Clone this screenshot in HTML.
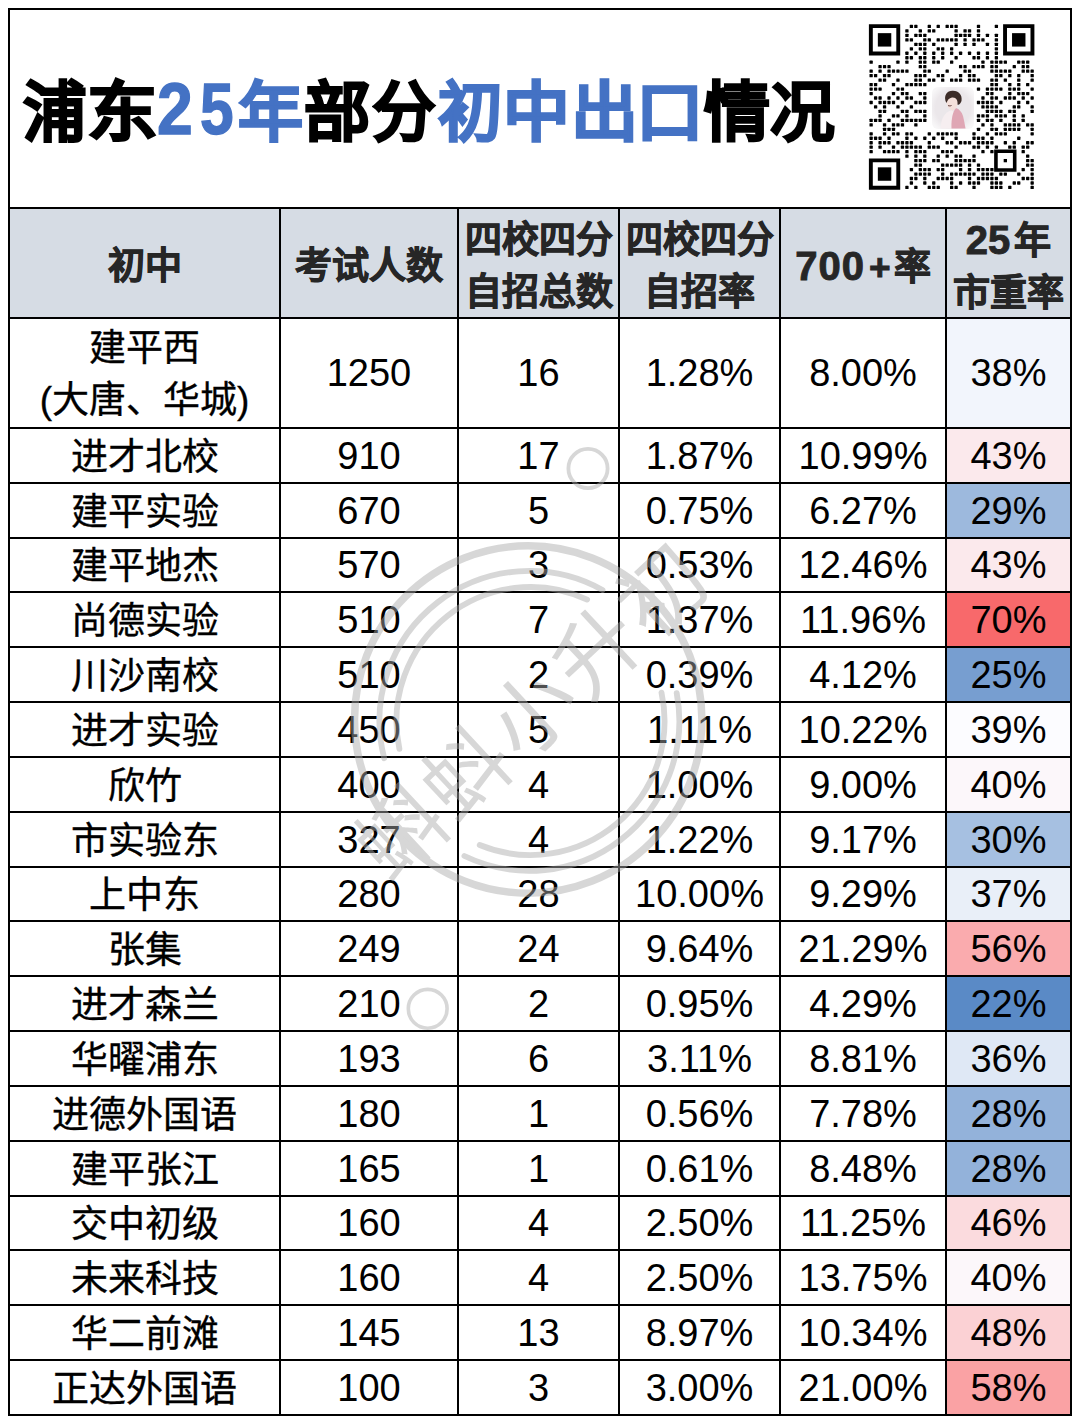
<!DOCTYPE html>
<html lang="zh-CN"><head><meta charset="utf-8"><style>
*{margin:0;padding:0;box-sizing:border-box}
html,body{width:1080px;height:1424px;background:#fff;overflow:hidden}
body{position:relative;font-family:"Liberation Sans",sans-serif;color:#000}
.h{position:absolute;height:2px;background:#000}
.v{position:absolute;width:2px;background:#000}
.c{position:absolute;display:flex;align-items:center;justify-content:center;text-align:center;white-space:nowrap;font-size:38px;line-height:52px}
.hd{font-weight:bold;color:#262626;font-size:37px;-webkit-text-stroke:0.9px #262626}
.bg{position:absolute}
.hn{font-size:40px}
.tg{position:absolute;font-size:64.5px;line-height:64.5px;font-weight:bold;-webkit-text-stroke:2px currentColor;white-space:nowrap;transform-origin:0 0}
.td{position:absolute;font-size:72px;line-height:72px;font-weight:bold;transform-origin:0 0;-webkit-text-stroke:1.4px currentColor}
.b{color:#4472c4}
.tg:not(.b){color:#000}
</style></head><body>

<div class="bg" style="left:10px;top:209px;width:1060px;height:108px;background:#d6dce4"></div>
<div class="bg" style="left:947px;top:319px;width:123px;height:108px;background:#f2f5fc"></div>
<div class="bg" style="left:947px;top:429px;width:123px;height:53px;background:#fbe9ec"></div>
<div class="bg" style="left:947px;top:484px;width:123px;height:53px;background:#9db9dd"></div>
<div class="bg" style="left:947px;top:539px;width:123px;height:52px;background:#fbe9ec"></div>
<div class="bg" style="left:947px;top:593px;width:123px;height:53px;background:#f8696b"></div>
<div class="bg" style="left:947px;top:648px;width:123px;height:53px;background:#779ed0"></div>
<div class="bg" style="left:947px;top:703px;width:123px;height:53px;background:#fcfcff"></div>
<div class="bg" style="left:947px;top:758px;width:123px;height:53px;background:#fcf7fa"></div>
<div class="bg" style="left:947px;top:813px;width:123px;height:53px;background:#a6c0e1"></div>
<div class="bg" style="left:947px;top:868px;width:123px;height:52px;background:#e9eff8"></div>
<div class="bg" style="left:947px;top:922px;width:123px;height:53px;background:#faabae"></div>
<div class="bg" style="left:947px;top:977px;width:123px;height:53px;background:#5a8ac6"></div>
<div class="bg" style="left:947px;top:1032px;width:123px;height:53px;background:#dfe8f5"></div>
<div class="bg" style="left:947px;top:1087px;width:123px;height:53px;background:#93b2da"></div>
<div class="bg" style="left:947px;top:1142px;width:123px;height:53px;background:#93b2da"></div>
<div class="bg" style="left:947px;top:1197px;width:123px;height:52px;background:#fbdbde"></div>
<div class="bg" style="left:947px;top:1251px;width:123px;height:53px;background:#fcf7fa"></div>
<div class="bg" style="left:947px;top:1306px;width:123px;height:53px;background:#fbd1d4"></div>
<div class="bg" style="left:947px;top:1361px;width:123px;height:53px;background:#faa2a4"></div>
<span class="tg" style="left:22.8px;top:80.85px;transform:scaleX(0.982)">浦</span>
<span class="tg" style="left:86.9px;top:80.85px;transform:scaleX(1.094)">东</span>
<span class="tg b" style="left:238.4px;top:80.85px;transform:scaleX(1.008)">年</span>
<span class="tg" style="left:303.8px;top:80.85px;transform:scaleX(1.030)">部</span>
<span class="tg" style="left:372.4px;top:80.85px;transform:scaleX(0.987)">分</span>
<span class="tg b" style="left:437.8px;top:80.85px;transform:scaleX(0.998)">初</span>
<span class="tg b" style="left:503.1px;top:80.85px;transform:scaleX(1.035)">中</span>
<span class="tg b" style="left:570.6px;top:80.85px;transform:scaleX(1.042)">出</span>
<span class="tg b" style="left:636.2px;top:80.85px;transform:scaleX(1.046)">口</span>
<span class="tg" style="left:703.6px;top:80.85px;transform:scaleX(1.021)">情</span>
<span class="tg" style="left:770.3px;top:80.85px;transform:scaleX(1.003)">况</span>
<span class="td b" style="left:157.2px;top:73.0px;transform:scaleX(0.893)">2</span>
<span class="td b" style="left:200.4px;top:73.0px;transform:scaleX(0.839)">5</span>
<div class="c hd" style="left:10px;top:209px;width:269px;height:108px;padding-top:8px"><div>初中</div></div>
<div class="c hd" style="left:281px;top:209px;width:176px;height:108px;padding-top:8px"><div>考试人数</div></div>
<div class="c hd" style="left:459px;top:209px;width:159px;height:108px;padding-top:7px"><div>四校四分<br>自招总数</div></div>
<div class="c hd" style="left:620px;top:209px;width:159px;height:108px;padding-top:7px"><div>四校四分<br>自招率</div></div>
<div class="c hd" style="left:781px;top:209px;width:164px;height:108px;padding-top:8px"><div><span class="hn" style="letter-spacing:1px">700</span><span style="margin:0 3px 0 4px">+</span>率</div></div>
<div class="c hd" style="left:947px;top:209px;width:123px;height:108px;padding-top:7px"><div><span class="hn" style="margin-right:4px">25</span>年<br>市重率</div></div>
<div class="c" style="left:10px;top:319px;width:269px;height:108px;font-size:37px;-webkit-text-stroke:0.35px #000;padding-top:4px"><div>建平西<br>(大唐、华城)</div></div>
<div class="c" style="left:281px;top:319px;width:176px;height:108px"><div>1250</div></div>
<div class="c" style="left:459px;top:319px;width:159px;height:108px"><div>16</div></div>
<div class="c" style="left:620px;top:319px;width:159px;height:108px"><div>1.28%</div></div>
<div class="c" style="left:781px;top:319px;width:164px;height:108px"><div>8.00%</div></div>
<div class="c" style="left:947px;top:319px;width:123px;height:108px"><div>38%</div></div>
<div class="c" style="left:10px;top:429px;width:269px;height:53px;font-size:37px;-webkit-text-stroke:0.35px #000;padding-top:4px"><div>进才北校</div></div>
<div class="c" style="left:281px;top:429px;width:176px;height:53px"><div>910</div></div>
<div class="c" style="left:459px;top:429px;width:159px;height:53px"><div>17</div></div>
<div class="c" style="left:620px;top:429px;width:159px;height:53px"><div>1.87%</div></div>
<div class="c" style="left:781px;top:429px;width:164px;height:53px"><div>10.99%</div></div>
<div class="c" style="left:947px;top:429px;width:123px;height:53px"><div>43%</div></div>
<div class="c" style="left:10px;top:484px;width:269px;height:53px;font-size:37px;-webkit-text-stroke:0.35px #000;padding-top:4px"><div>建平实验</div></div>
<div class="c" style="left:281px;top:484px;width:176px;height:53px"><div>670</div></div>
<div class="c" style="left:459px;top:484px;width:159px;height:53px"><div>5</div></div>
<div class="c" style="left:620px;top:484px;width:159px;height:53px"><div>0.75%</div></div>
<div class="c" style="left:781px;top:484px;width:164px;height:53px"><div>6.27%</div></div>
<div class="c" style="left:947px;top:484px;width:123px;height:53px"><div>29%</div></div>
<div class="c" style="left:10px;top:539px;width:269px;height:52px;font-size:37px;-webkit-text-stroke:0.35px #000;padding-top:4px"><div>建平地杰</div></div>
<div class="c" style="left:281px;top:539px;width:176px;height:52px"><div>570</div></div>
<div class="c" style="left:459px;top:539px;width:159px;height:52px"><div>3</div></div>
<div class="c" style="left:620px;top:539px;width:159px;height:52px"><div>0.53%</div></div>
<div class="c" style="left:781px;top:539px;width:164px;height:52px"><div>12.46%</div></div>
<div class="c" style="left:947px;top:539px;width:123px;height:52px"><div>43%</div></div>
<div class="c" style="left:10px;top:593px;width:269px;height:53px;font-size:37px;-webkit-text-stroke:0.35px #000;padding-top:4px"><div>尚德实验</div></div>
<div class="c" style="left:281px;top:593px;width:176px;height:53px"><div>510</div></div>
<div class="c" style="left:459px;top:593px;width:159px;height:53px"><div>7</div></div>
<div class="c" style="left:620px;top:593px;width:159px;height:53px"><div>1.37%</div></div>
<div class="c" style="left:781px;top:593px;width:164px;height:53px"><div>11.96%</div></div>
<div class="c" style="left:947px;top:593px;width:123px;height:53px"><div>70%</div></div>
<div class="c" style="left:10px;top:648px;width:269px;height:53px;font-size:37px;-webkit-text-stroke:0.35px #000;padding-top:4px"><div>川沙南校</div></div>
<div class="c" style="left:281px;top:648px;width:176px;height:53px"><div>510</div></div>
<div class="c" style="left:459px;top:648px;width:159px;height:53px"><div>2</div></div>
<div class="c" style="left:620px;top:648px;width:159px;height:53px"><div>0.39%</div></div>
<div class="c" style="left:781px;top:648px;width:164px;height:53px"><div>4.12%</div></div>
<div class="c" style="left:947px;top:648px;width:123px;height:53px"><div>25%</div></div>
<div class="c" style="left:10px;top:703px;width:269px;height:53px;font-size:37px;-webkit-text-stroke:0.35px #000;padding-top:4px"><div>进才实验</div></div>
<div class="c" style="left:281px;top:703px;width:176px;height:53px"><div>450</div></div>
<div class="c" style="left:459px;top:703px;width:159px;height:53px"><div>5</div></div>
<div class="c" style="left:620px;top:703px;width:159px;height:53px"><div>1.11%</div></div>
<div class="c" style="left:781px;top:703px;width:164px;height:53px"><div>10.22%</div></div>
<div class="c" style="left:947px;top:703px;width:123px;height:53px"><div>39%</div></div>
<div class="c" style="left:10px;top:758px;width:269px;height:53px;font-size:37px;-webkit-text-stroke:0.35px #000;padding-top:4px"><div>欣竹</div></div>
<div class="c" style="left:281px;top:758px;width:176px;height:53px"><div>400</div></div>
<div class="c" style="left:459px;top:758px;width:159px;height:53px"><div>4</div></div>
<div class="c" style="left:620px;top:758px;width:159px;height:53px"><div>1.00%</div></div>
<div class="c" style="left:781px;top:758px;width:164px;height:53px"><div>9.00%</div></div>
<div class="c" style="left:947px;top:758px;width:123px;height:53px"><div>40%</div></div>
<div class="c" style="left:10px;top:813px;width:269px;height:53px;font-size:37px;-webkit-text-stroke:0.35px #000;padding-top:4px"><div>市实验东</div></div>
<div class="c" style="left:281px;top:813px;width:176px;height:53px"><div>327</div></div>
<div class="c" style="left:459px;top:813px;width:159px;height:53px"><div>4</div></div>
<div class="c" style="left:620px;top:813px;width:159px;height:53px"><div>1.22%</div></div>
<div class="c" style="left:781px;top:813px;width:164px;height:53px"><div>9.17%</div></div>
<div class="c" style="left:947px;top:813px;width:123px;height:53px"><div>30%</div></div>
<div class="c" style="left:10px;top:868px;width:269px;height:52px;font-size:37px;-webkit-text-stroke:0.35px #000;padding-top:4px"><div>上中东</div></div>
<div class="c" style="left:281px;top:868px;width:176px;height:52px"><div>280</div></div>
<div class="c" style="left:459px;top:868px;width:159px;height:52px"><div>28</div></div>
<div class="c" style="left:620px;top:868px;width:159px;height:52px"><div>10.00%</div></div>
<div class="c" style="left:781px;top:868px;width:164px;height:52px"><div>9.29%</div></div>
<div class="c" style="left:947px;top:868px;width:123px;height:52px"><div>37%</div></div>
<div class="c" style="left:10px;top:922px;width:269px;height:53px;font-size:37px;-webkit-text-stroke:0.35px #000;padding-top:4px"><div>张集</div></div>
<div class="c" style="left:281px;top:922px;width:176px;height:53px"><div>249</div></div>
<div class="c" style="left:459px;top:922px;width:159px;height:53px"><div>24</div></div>
<div class="c" style="left:620px;top:922px;width:159px;height:53px"><div>9.64%</div></div>
<div class="c" style="left:781px;top:922px;width:164px;height:53px"><div>21.29%</div></div>
<div class="c" style="left:947px;top:922px;width:123px;height:53px"><div>56%</div></div>
<div class="c" style="left:10px;top:977px;width:269px;height:53px;font-size:37px;-webkit-text-stroke:0.35px #000;padding-top:4px"><div>进才森兰</div></div>
<div class="c" style="left:281px;top:977px;width:176px;height:53px"><div>210</div></div>
<div class="c" style="left:459px;top:977px;width:159px;height:53px"><div>2</div></div>
<div class="c" style="left:620px;top:977px;width:159px;height:53px"><div>0.95%</div></div>
<div class="c" style="left:781px;top:977px;width:164px;height:53px"><div>4.29%</div></div>
<div class="c" style="left:947px;top:977px;width:123px;height:53px"><div>22%</div></div>
<div class="c" style="left:10px;top:1032px;width:269px;height:53px;font-size:37px;-webkit-text-stroke:0.35px #000;padding-top:4px"><div>华曜浦东</div></div>
<div class="c" style="left:281px;top:1032px;width:176px;height:53px"><div>193</div></div>
<div class="c" style="left:459px;top:1032px;width:159px;height:53px"><div>6</div></div>
<div class="c" style="left:620px;top:1032px;width:159px;height:53px"><div>3.11%</div></div>
<div class="c" style="left:781px;top:1032px;width:164px;height:53px"><div>8.81%</div></div>
<div class="c" style="left:947px;top:1032px;width:123px;height:53px"><div>36%</div></div>
<div class="c" style="left:10px;top:1087px;width:269px;height:53px;font-size:37px;-webkit-text-stroke:0.35px #000;padding-top:4px"><div>进德外国语</div></div>
<div class="c" style="left:281px;top:1087px;width:176px;height:53px"><div>180</div></div>
<div class="c" style="left:459px;top:1087px;width:159px;height:53px"><div>1</div></div>
<div class="c" style="left:620px;top:1087px;width:159px;height:53px"><div>0.56%</div></div>
<div class="c" style="left:781px;top:1087px;width:164px;height:53px"><div>7.78%</div></div>
<div class="c" style="left:947px;top:1087px;width:123px;height:53px"><div>28%</div></div>
<div class="c" style="left:10px;top:1142px;width:269px;height:53px;font-size:37px;-webkit-text-stroke:0.35px #000;padding-top:4px"><div>建平张江</div></div>
<div class="c" style="left:281px;top:1142px;width:176px;height:53px"><div>165</div></div>
<div class="c" style="left:459px;top:1142px;width:159px;height:53px"><div>1</div></div>
<div class="c" style="left:620px;top:1142px;width:159px;height:53px"><div>0.61%</div></div>
<div class="c" style="left:781px;top:1142px;width:164px;height:53px"><div>8.48%</div></div>
<div class="c" style="left:947px;top:1142px;width:123px;height:53px"><div>28%</div></div>
<div class="c" style="left:10px;top:1197px;width:269px;height:52px;font-size:37px;-webkit-text-stroke:0.35px #000;padding-top:4px"><div>交中初级</div></div>
<div class="c" style="left:281px;top:1197px;width:176px;height:52px"><div>160</div></div>
<div class="c" style="left:459px;top:1197px;width:159px;height:52px"><div>4</div></div>
<div class="c" style="left:620px;top:1197px;width:159px;height:52px"><div>2.50%</div></div>
<div class="c" style="left:781px;top:1197px;width:164px;height:52px"><div>11.25%</div></div>
<div class="c" style="left:947px;top:1197px;width:123px;height:52px"><div>46%</div></div>
<div class="c" style="left:10px;top:1251px;width:269px;height:53px;font-size:37px;-webkit-text-stroke:0.35px #000;padding-top:4px"><div>未来科技</div></div>
<div class="c" style="left:281px;top:1251px;width:176px;height:53px"><div>160</div></div>
<div class="c" style="left:459px;top:1251px;width:159px;height:53px"><div>4</div></div>
<div class="c" style="left:620px;top:1251px;width:159px;height:53px"><div>2.50%</div></div>
<div class="c" style="left:781px;top:1251px;width:164px;height:53px"><div>13.75%</div></div>
<div class="c" style="left:947px;top:1251px;width:123px;height:53px"><div>40%</div></div>
<div class="c" style="left:10px;top:1306px;width:269px;height:53px;font-size:37px;-webkit-text-stroke:0.35px #000;padding-top:4px"><div>华二前滩</div></div>
<div class="c" style="left:281px;top:1306px;width:176px;height:53px"><div>145</div></div>
<div class="c" style="left:459px;top:1306px;width:159px;height:53px"><div>13</div></div>
<div class="c" style="left:620px;top:1306px;width:159px;height:53px"><div>8.97%</div></div>
<div class="c" style="left:781px;top:1306px;width:164px;height:53px"><div>10.34%</div></div>
<div class="c" style="left:947px;top:1306px;width:123px;height:53px"><div>48%</div></div>
<div class="c" style="left:10px;top:1361px;width:269px;height:53px;font-size:37px;-webkit-text-stroke:0.35px #000;padding-top:4px"><div>正达外国语</div></div>
<div class="c" style="left:281px;top:1361px;width:176px;height:53px"><div>100</div></div>
<div class="c" style="left:459px;top:1361px;width:159px;height:53px"><div>3</div></div>
<div class="c" style="left:620px;top:1361px;width:159px;height:53px"><div>3.00%</div></div>
<div class="c" style="left:781px;top:1361px;width:164px;height:53px"><div>21.00%</div></div>
<div class="c" style="left:947px;top:1361px;width:123px;height:53px"><div>58%</div></div>
<div class="h" style="left:8px;top:8px;width:1064px"></div>
<div class="h" style="left:8px;top:207px;width:1064px"></div>
<div class="h" style="left:8px;top:317px;width:1064px"></div>
<div class="h" style="left:8px;top:427px;width:1064px"></div>
<div class="h" style="left:8px;top:482px;width:1064px"></div>
<div class="h" style="left:8px;top:537px;width:1064px"></div>
<div class="h" style="left:8px;top:591px;width:1064px"></div>
<div class="h" style="left:8px;top:646px;width:1064px"></div>
<div class="h" style="left:8px;top:701px;width:1064px"></div>
<div class="h" style="left:8px;top:756px;width:1064px"></div>
<div class="h" style="left:8px;top:811px;width:1064px"></div>
<div class="h" style="left:8px;top:866px;width:1064px"></div>
<div class="h" style="left:8px;top:920px;width:1064px"></div>
<div class="h" style="left:8px;top:975px;width:1064px"></div>
<div class="h" style="left:8px;top:1030px;width:1064px"></div>
<div class="h" style="left:8px;top:1085px;width:1064px"></div>
<div class="h" style="left:8px;top:1140px;width:1064px"></div>
<div class="h" style="left:8px;top:1195px;width:1064px"></div>
<div class="h" style="left:8px;top:1249px;width:1064px"></div>
<div class="h" style="left:8px;top:1304px;width:1064px"></div>
<div class="h" style="left:8px;top:1359px;width:1064px"></div>
<div class="h" style="left:8px;top:1414px;width:1064px"></div>
<div class="v" style="left:8px;top:8px;height:1408px"></div>
<div class="v" style="left:1070px;top:8px;height:1408px"></div>
<div class="v" style="left:279px;top:207px;height:1209px"></div>
<div class="v" style="left:457px;top:207px;height:1209px"></div>
<div class="v" style="left:618px;top:207px;height:1209px"></div>
<div class="v" style="left:779px;top:207px;height:1209px"></div>
<div class="v" style="left:945px;top:207px;height:1209px"></div>
<svg style="position:absolute;left:0;top:0" width="1080" height="220" viewBox="0 0 1080 220">
<g fill="#000">
<rect x="909.74" y="24.79" width="3.30" height="3.30" rx="0.6"/>
<rect x="914.22" y="24.79" width="3.30" height="3.30" rx="0.6"/>
<rect x="927.64" y="24.79" width="3.30" height="3.30" rx="0.6"/>
<rect x="936.58" y="24.79" width="3.30" height="3.30" rx="0.6"/>
<rect x="945.53" y="24.79" width="3.30" height="3.30" rx="0.6"/>
<rect x="950.00" y="24.79" width="3.30" height="3.30" rx="0.6"/>
<rect x="954.47" y="24.79" width="3.30" height="3.30" rx="0.6"/>
<rect x="976.84" y="24.79" width="3.30" height="3.30" rx="0.6"/>
<rect x="994.73" y="24.79" width="3.30" height="3.30" rx="0.6"/>
<rect x="905.27" y="29.26" width="3.30" height="3.30" rx="0.6"/>
<rect x="918.69" y="29.26" width="3.30" height="3.30" rx="0.6"/>
<rect x="927.64" y="29.26" width="3.30" height="3.30" rx="0.6"/>
<rect x="932.11" y="29.26" width="3.30" height="3.30" rx="0.6"/>
<rect x="954.47" y="29.26" width="3.30" height="3.30" rx="0.6"/>
<rect x="963.42" y="29.26" width="3.30" height="3.30" rx="0.6"/>
<rect x="967.89" y="29.26" width="3.30" height="3.30" rx="0.6"/>
<rect x="976.84" y="29.26" width="3.30" height="3.30" rx="0.6"/>
<rect x="905.27" y="33.73" width="3.30" height="3.30" rx="0.6"/>
<rect x="914.22" y="33.73" width="3.30" height="3.30" rx="0.6"/>
<rect x="918.69" y="33.73" width="3.30" height="3.30" rx="0.6"/>
<rect x="923.16" y="33.73" width="3.30" height="3.30" rx="0.6"/>
<rect x="954.47" y="33.73" width="3.30" height="3.30" rx="0.6"/>
<rect x="958.95" y="33.73" width="3.30" height="3.30" rx="0.6"/>
<rect x="963.42" y="33.73" width="3.30" height="3.30" rx="0.6"/>
<rect x="967.89" y="33.73" width="3.30" height="3.30" rx="0.6"/>
<rect x="976.84" y="33.73" width="3.30" height="3.30" rx="0.6"/>
<rect x="985.78" y="33.73" width="3.30" height="3.30" rx="0.6"/>
<rect x="994.73" y="33.73" width="3.30" height="3.30" rx="0.6"/>
<rect x="905.27" y="38.21" width="3.30" height="3.30" rx="0.6"/>
<rect x="909.74" y="38.21" width="3.30" height="3.30" rx="0.6"/>
<rect x="923.16" y="38.21" width="3.30" height="3.30" rx="0.6"/>
<rect x="927.64" y="38.21" width="3.30" height="3.30" rx="0.6"/>
<rect x="936.58" y="38.21" width="3.30" height="3.30" rx="0.6"/>
<rect x="941.05" y="38.21" width="3.30" height="3.30" rx="0.6"/>
<rect x="945.53" y="38.21" width="3.30" height="3.30" rx="0.6"/>
<rect x="950.00" y="38.21" width="3.30" height="3.30" rx="0.6"/>
<rect x="954.47" y="38.21" width="3.30" height="3.30" rx="0.6"/>
<rect x="963.42" y="38.21" width="3.30" height="3.30" rx="0.6"/>
<rect x="972.37" y="38.21" width="3.30" height="3.30" rx="0.6"/>
<rect x="976.84" y="38.21" width="3.30" height="3.30" rx="0.6"/>
<rect x="981.31" y="38.21" width="3.30" height="3.30" rx="0.6"/>
<rect x="994.73" y="38.21" width="3.30" height="3.30" rx="0.6"/>
<rect x="914.22" y="42.68" width="3.30" height="3.30" rx="0.6"/>
<rect x="918.69" y="42.68" width="3.30" height="3.30" rx="0.6"/>
<rect x="923.16" y="42.68" width="3.30" height="3.30" rx="0.6"/>
<rect x="932.11" y="42.68" width="3.30" height="3.30" rx="0.6"/>
<rect x="954.47" y="42.68" width="3.30" height="3.30" rx="0.6"/>
<rect x="963.42" y="42.68" width="3.30" height="3.30" rx="0.6"/>
<rect x="972.37" y="42.68" width="3.30" height="3.30" rx="0.6"/>
<rect x="985.78" y="42.68" width="3.30" height="3.30" rx="0.6"/>
<rect x="994.73" y="42.68" width="3.30" height="3.30" rx="0.6"/>
<rect x="909.74" y="47.15" width="3.30" height="3.30" rx="0.6"/>
<rect x="918.69" y="47.15" width="3.30" height="3.30" rx="0.6"/>
<rect x="923.16" y="47.15" width="3.30" height="3.30" rx="0.6"/>
<rect x="936.58" y="47.15" width="3.30" height="3.30" rx="0.6"/>
<rect x="941.05" y="47.15" width="3.30" height="3.30" rx="0.6"/>
<rect x="950.00" y="47.15" width="3.30" height="3.30" rx="0.6"/>
<rect x="994.73" y="47.15" width="3.30" height="3.30" rx="0.6"/>
<rect x="905.27" y="51.62" width="3.30" height="3.30" rx="0.6"/>
<rect x="914.22" y="51.62" width="3.30" height="3.30" rx="0.6"/>
<rect x="923.16" y="51.62" width="3.30" height="3.30" rx="0.6"/>
<rect x="932.11" y="51.62" width="3.30" height="3.30" rx="0.6"/>
<rect x="941.05" y="51.62" width="3.30" height="3.30" rx="0.6"/>
<rect x="950.00" y="51.62" width="3.30" height="3.30" rx="0.6"/>
<rect x="958.95" y="51.62" width="3.30" height="3.30" rx="0.6"/>
<rect x="967.89" y="51.62" width="3.30" height="3.30" rx="0.6"/>
<rect x="976.84" y="51.62" width="3.30" height="3.30" rx="0.6"/>
<rect x="985.78" y="51.62" width="3.30" height="3.30" rx="0.6"/>
<rect x="994.73" y="51.62" width="3.30" height="3.30" rx="0.6"/>
<rect x="905.27" y="56.10" width="3.30" height="3.30" rx="0.6"/>
<rect x="909.74" y="56.10" width="3.30" height="3.30" rx="0.6"/>
<rect x="918.69" y="56.10" width="3.30" height="3.30" rx="0.6"/>
<rect x="923.16" y="56.10" width="3.30" height="3.30" rx="0.6"/>
<rect x="932.11" y="56.10" width="3.30" height="3.30" rx="0.6"/>
<rect x="941.05" y="56.10" width="3.30" height="3.30" rx="0.6"/>
<rect x="954.47" y="56.10" width="3.30" height="3.30" rx="0.6"/>
<rect x="972.37" y="56.10" width="3.30" height="3.30" rx="0.6"/>
<rect x="976.84" y="56.10" width="3.30" height="3.30" rx="0.6"/>
<rect x="985.78" y="56.10" width="3.30" height="3.30" rx="0.6"/>
<rect x="994.73" y="56.10" width="3.30" height="3.30" rx="0.6"/>
<rect x="869.49" y="60.57" width="3.30" height="3.30" rx="0.6"/>
<rect x="896.32" y="60.57" width="3.30" height="3.30" rx="0.6"/>
<rect x="905.27" y="60.57" width="3.30" height="3.30" rx="0.6"/>
<rect x="918.69" y="60.57" width="3.30" height="3.30" rx="0.6"/>
<rect x="923.16" y="60.57" width="3.30" height="3.30" rx="0.6"/>
<rect x="932.11" y="60.57" width="3.30" height="3.30" rx="0.6"/>
<rect x="936.58" y="60.57" width="3.30" height="3.30" rx="0.6"/>
<rect x="950.00" y="60.57" width="3.30" height="3.30" rx="0.6"/>
<rect x="981.31" y="60.57" width="3.30" height="3.30" rx="0.6"/>
<rect x="990.26" y="60.57" width="3.30" height="3.30" rx="0.6"/>
<rect x="994.73" y="60.57" width="3.30" height="3.30" rx="0.6"/>
<rect x="999.20" y="60.57" width="3.30" height="3.30" rx="0.6"/>
<rect x="1003.68" y="60.57" width="3.30" height="3.30" rx="0.6"/>
<rect x="1017.10" y="60.57" width="3.30" height="3.30" rx="0.6"/>
<rect x="1021.57" y="60.57" width="3.30" height="3.30" rx="0.6"/>
<rect x="1026.04" y="60.57" width="3.30" height="3.30" rx="0.6"/>
<rect x="878.43" y="65.04" width="3.30" height="3.30" rx="0.6"/>
<rect x="882.91" y="65.04" width="3.30" height="3.30" rx="0.6"/>
<rect x="887.38" y="65.04" width="3.30" height="3.30" rx="0.6"/>
<rect x="918.69" y="65.04" width="3.30" height="3.30" rx="0.6"/>
<rect x="923.16" y="65.04" width="3.30" height="3.30" rx="0.6"/>
<rect x="958.95" y="65.04" width="3.30" height="3.30" rx="0.6"/>
<rect x="963.42" y="65.04" width="3.30" height="3.30" rx="0.6"/>
<rect x="972.37" y="65.04" width="3.30" height="3.30" rx="0.6"/>
<rect x="976.84" y="65.04" width="3.30" height="3.30" rx="0.6"/>
<rect x="981.31" y="65.04" width="3.30" height="3.30" rx="0.6"/>
<rect x="990.26" y="65.04" width="3.30" height="3.30" rx="0.6"/>
<rect x="994.73" y="65.04" width="3.30" height="3.30" rx="0.6"/>
<rect x="1012.62" y="65.04" width="3.30" height="3.30" rx="0.6"/>
<rect x="1021.57" y="65.04" width="3.30" height="3.30" rx="0.6"/>
<rect x="1026.04" y="65.04" width="3.30" height="3.30" rx="0.6"/>
<rect x="869.49" y="69.52" width="3.30" height="3.30" rx="0.6"/>
<rect x="878.43" y="69.52" width="3.30" height="3.30" rx="0.6"/>
<rect x="887.38" y="69.52" width="3.30" height="3.30" rx="0.6"/>
<rect x="891.85" y="69.52" width="3.30" height="3.30" rx="0.6"/>
<rect x="896.32" y="69.52" width="3.30" height="3.30" rx="0.6"/>
<rect x="900.80" y="69.52" width="3.30" height="3.30" rx="0.6"/>
<rect x="905.27" y="69.52" width="3.30" height="3.30" rx="0.6"/>
<rect x="923.16" y="69.52" width="3.30" height="3.30" rx="0.6"/>
<rect x="927.64" y="69.52" width="3.30" height="3.30" rx="0.6"/>
<rect x="945.53" y="69.52" width="3.30" height="3.30" rx="0.6"/>
<rect x="963.42" y="69.52" width="3.30" height="3.30" rx="0.6"/>
<rect x="967.89" y="69.52" width="3.30" height="3.30" rx="0.6"/>
<rect x="990.26" y="69.52" width="3.30" height="3.30" rx="0.6"/>
<rect x="994.73" y="69.52" width="3.30" height="3.30" rx="0.6"/>
<rect x="999.20" y="69.52" width="3.30" height="3.30" rx="0.6"/>
<rect x="1003.68" y="69.52" width="3.30" height="3.30" rx="0.6"/>
<rect x="1008.15" y="69.52" width="3.30" height="3.30" rx="0.6"/>
<rect x="1021.57" y="69.52" width="3.30" height="3.30" rx="0.6"/>
<rect x="1026.04" y="69.52" width="3.30" height="3.30" rx="0.6"/>
<rect x="1030.51" y="69.52" width="3.30" height="3.30" rx="0.6"/>
<rect x="869.49" y="73.99" width="3.30" height="3.30" rx="0.6"/>
<rect x="873.96" y="73.99" width="3.30" height="3.30" rx="0.6"/>
<rect x="882.91" y="73.99" width="3.30" height="3.30" rx="0.6"/>
<rect x="887.38" y="73.99" width="3.30" height="3.30" rx="0.6"/>
<rect x="914.22" y="73.99" width="3.30" height="3.30" rx="0.6"/>
<rect x="918.69" y="73.99" width="3.30" height="3.30" rx="0.6"/>
<rect x="923.16" y="73.99" width="3.30" height="3.30" rx="0.6"/>
<rect x="936.58" y="73.99" width="3.30" height="3.30" rx="0.6"/>
<rect x="941.05" y="73.99" width="3.30" height="3.30" rx="0.6"/>
<rect x="958.95" y="73.99" width="3.30" height="3.30" rx="0.6"/>
<rect x="967.89" y="73.99" width="3.30" height="3.30" rx="0.6"/>
<rect x="972.37" y="73.99" width="3.30" height="3.30" rx="0.6"/>
<rect x="994.73" y="73.99" width="3.30" height="3.30" rx="0.6"/>
<rect x="999.20" y="73.99" width="3.30" height="3.30" rx="0.6"/>
<rect x="1008.15" y="73.99" width="3.30" height="3.30" rx="0.6"/>
<rect x="1017.10" y="73.99" width="3.30" height="3.30" rx="0.6"/>
<rect x="1030.51" y="73.99" width="3.30" height="3.30" rx="0.6"/>
<rect x="878.43" y="78.46" width="3.30" height="3.30" rx="0.6"/>
<rect x="882.91" y="78.46" width="3.30" height="3.30" rx="0.6"/>
<rect x="896.32" y="78.46" width="3.30" height="3.30" rx="0.6"/>
<rect x="914.22" y="78.46" width="3.30" height="3.30" rx="0.6"/>
<rect x="918.69" y="78.46" width="3.30" height="3.30" rx="0.6"/>
<rect x="927.64" y="78.46" width="3.30" height="3.30" rx="0.6"/>
<rect x="932.11" y="78.46" width="3.30" height="3.30" rx="0.6"/>
<rect x="941.05" y="78.46" width="3.30" height="3.30" rx="0.6"/>
<rect x="950.00" y="78.46" width="3.30" height="3.30" rx="0.6"/>
<rect x="954.47" y="78.46" width="3.30" height="3.30" rx="0.6"/>
<rect x="958.95" y="78.46" width="3.30" height="3.30" rx="0.6"/>
<rect x="967.89" y="78.46" width="3.30" height="3.30" rx="0.6"/>
<rect x="972.37" y="78.46" width="3.30" height="3.30" rx="0.6"/>
<rect x="976.84" y="78.46" width="3.30" height="3.30" rx="0.6"/>
<rect x="990.26" y="78.46" width="3.30" height="3.30" rx="0.6"/>
<rect x="994.73" y="78.46" width="3.30" height="3.30" rx="0.6"/>
<rect x="1003.68" y="78.46" width="3.30" height="3.30" rx="0.6"/>
<rect x="1017.10" y="78.46" width="3.30" height="3.30" rx="0.6"/>
<rect x="1030.51" y="78.46" width="3.30" height="3.30" rx="0.6"/>
<rect x="869.49" y="82.94" width="3.30" height="3.30" rx="0.6"/>
<rect x="873.96" y="82.94" width="3.30" height="3.30" rx="0.6"/>
<rect x="891.85" y="82.94" width="3.30" height="3.30" rx="0.6"/>
<rect x="905.27" y="82.94" width="3.30" height="3.30" rx="0.6"/>
<rect x="909.74" y="82.94" width="3.30" height="3.30" rx="0.6"/>
<rect x="914.22" y="82.94" width="3.30" height="3.30" rx="0.6"/>
<rect x="918.69" y="82.94" width="3.30" height="3.30" rx="0.6"/>
<rect x="923.16" y="82.94" width="3.30" height="3.30" rx="0.6"/>
<rect x="990.26" y="82.94" width="3.30" height="3.30" rx="0.6"/>
<rect x="994.73" y="82.94" width="3.30" height="3.30" rx="0.6"/>
<rect x="1008.15" y="82.94" width="3.30" height="3.30" rx="0.6"/>
<rect x="1017.10" y="82.94" width="3.30" height="3.30" rx="0.6"/>
<rect x="1026.04" y="82.94" width="3.30" height="3.30" rx="0.6"/>
<rect x="869.49" y="87.41" width="3.30" height="3.30" rx="0.6"/>
<rect x="873.96" y="87.41" width="3.30" height="3.30" rx="0.6"/>
<rect x="878.43" y="87.41" width="3.30" height="3.30" rx="0.6"/>
<rect x="896.32" y="87.41" width="3.30" height="3.30" rx="0.6"/>
<rect x="900.80" y="87.41" width="3.30" height="3.30" rx="0.6"/>
<rect x="976.84" y="87.41" width="3.30" height="3.30" rx="0.6"/>
<rect x="985.78" y="87.41" width="3.30" height="3.30" rx="0.6"/>
<rect x="990.26" y="87.41" width="3.30" height="3.30" rx="0.6"/>
<rect x="994.73" y="87.41" width="3.30" height="3.30" rx="0.6"/>
<rect x="999.20" y="87.41" width="3.30" height="3.30" rx="0.6"/>
<rect x="1008.15" y="87.41" width="3.30" height="3.30" rx="0.6"/>
<rect x="1012.62" y="87.41" width="3.30" height="3.30" rx="0.6"/>
<rect x="1017.10" y="87.41" width="3.30" height="3.30" rx="0.6"/>
<rect x="1030.51" y="87.41" width="3.30" height="3.30" rx="0.6"/>
<rect x="869.49" y="91.88" width="3.30" height="3.30" rx="0.6"/>
<rect x="891.85" y="91.88" width="3.30" height="3.30" rx="0.6"/>
<rect x="900.80" y="91.88" width="3.30" height="3.30" rx="0.6"/>
<rect x="905.27" y="91.88" width="3.30" height="3.30" rx="0.6"/>
<rect x="918.69" y="91.88" width="3.30" height="3.30" rx="0.6"/>
<rect x="923.16" y="91.88" width="3.30" height="3.30" rx="0.6"/>
<rect x="985.78" y="91.88" width="3.30" height="3.30" rx="0.6"/>
<rect x="990.26" y="91.88" width="3.30" height="3.30" rx="0.6"/>
<rect x="1008.15" y="91.88" width="3.30" height="3.30" rx="0.6"/>
<rect x="1017.10" y="91.88" width="3.30" height="3.30" rx="0.6"/>
<rect x="1021.57" y="91.88" width="3.30" height="3.30" rx="0.6"/>
<rect x="1026.04" y="91.88" width="3.30" height="3.30" rx="0.6"/>
<rect x="873.96" y="96.35" width="3.30" height="3.30" rx="0.6"/>
<rect x="878.43" y="96.35" width="3.30" height="3.30" rx="0.6"/>
<rect x="887.38" y="96.35" width="3.30" height="3.30" rx="0.6"/>
<rect x="896.32" y="96.35" width="3.30" height="3.30" rx="0.6"/>
<rect x="905.27" y="96.35" width="3.30" height="3.30" rx="0.6"/>
<rect x="909.74" y="96.35" width="3.30" height="3.30" rx="0.6"/>
<rect x="923.16" y="96.35" width="3.30" height="3.30" rx="0.6"/>
<rect x="981.31" y="96.35" width="3.30" height="3.30" rx="0.6"/>
<rect x="990.26" y="96.35" width="3.30" height="3.30" rx="0.6"/>
<rect x="994.73" y="96.35" width="3.30" height="3.30" rx="0.6"/>
<rect x="1003.68" y="96.35" width="3.30" height="3.30" rx="0.6"/>
<rect x="1008.15" y="96.35" width="3.30" height="3.30" rx="0.6"/>
<rect x="1012.62" y="96.35" width="3.30" height="3.30" rx="0.6"/>
<rect x="1021.57" y="96.35" width="3.30" height="3.30" rx="0.6"/>
<rect x="1030.51" y="96.35" width="3.30" height="3.30" rx="0.6"/>
<rect x="869.49" y="100.83" width="3.30" height="3.30" rx="0.6"/>
<rect x="878.43" y="100.83" width="3.30" height="3.30" rx="0.6"/>
<rect x="882.91" y="100.83" width="3.30" height="3.30" rx="0.6"/>
<rect x="887.38" y="100.83" width="3.30" height="3.30" rx="0.6"/>
<rect x="891.85" y="100.83" width="3.30" height="3.30" rx="0.6"/>
<rect x="900.80" y="100.83" width="3.30" height="3.30" rx="0.6"/>
<rect x="914.22" y="100.83" width="3.30" height="3.30" rx="0.6"/>
<rect x="918.69" y="100.83" width="3.30" height="3.30" rx="0.6"/>
<rect x="923.16" y="100.83" width="3.30" height="3.30" rx="0.6"/>
<rect x="976.84" y="100.83" width="3.30" height="3.30" rx="0.6"/>
<rect x="981.31" y="100.83" width="3.30" height="3.30" rx="0.6"/>
<rect x="985.78" y="100.83" width="3.30" height="3.30" rx="0.6"/>
<rect x="990.26" y="100.83" width="3.30" height="3.30" rx="0.6"/>
<rect x="999.20" y="100.83" width="3.30" height="3.30" rx="0.6"/>
<rect x="1017.10" y="100.83" width="3.30" height="3.30" rx="0.6"/>
<rect x="1026.04" y="100.83" width="3.30" height="3.30" rx="0.6"/>
<rect x="873.96" y="105.30" width="3.30" height="3.30" rx="0.6"/>
<rect x="882.91" y="105.30" width="3.30" height="3.30" rx="0.6"/>
<rect x="896.32" y="105.30" width="3.30" height="3.30" rx="0.6"/>
<rect x="909.74" y="105.30" width="3.30" height="3.30" rx="0.6"/>
<rect x="981.31" y="105.30" width="3.30" height="3.30" rx="0.6"/>
<rect x="985.78" y="105.30" width="3.30" height="3.30" rx="0.6"/>
<rect x="990.26" y="105.30" width="3.30" height="3.30" rx="0.6"/>
<rect x="994.73" y="105.30" width="3.30" height="3.30" rx="0.6"/>
<rect x="1012.62" y="105.30" width="3.30" height="3.30" rx="0.6"/>
<rect x="1017.10" y="105.30" width="3.30" height="3.30" rx="0.6"/>
<rect x="1030.51" y="105.30" width="3.30" height="3.30" rx="0.6"/>
<rect x="878.43" y="109.77" width="3.30" height="3.30" rx="0.6"/>
<rect x="882.91" y="109.77" width="3.30" height="3.30" rx="0.6"/>
<rect x="900.80" y="109.77" width="3.30" height="3.30" rx="0.6"/>
<rect x="905.27" y="109.77" width="3.30" height="3.30" rx="0.6"/>
<rect x="914.22" y="109.77" width="3.30" height="3.30" rx="0.6"/>
<rect x="918.69" y="109.77" width="3.30" height="3.30" rx="0.6"/>
<rect x="923.16" y="109.77" width="3.30" height="3.30" rx="0.6"/>
<rect x="985.78" y="109.77" width="3.30" height="3.30" rx="0.6"/>
<rect x="990.26" y="109.77" width="3.30" height="3.30" rx="0.6"/>
<rect x="994.73" y="109.77" width="3.30" height="3.30" rx="0.6"/>
<rect x="999.20" y="109.77" width="3.30" height="3.30" rx="0.6"/>
<rect x="1008.15" y="109.77" width="3.30" height="3.30" rx="0.6"/>
<rect x="1012.62" y="109.77" width="3.30" height="3.30" rx="0.6"/>
<rect x="1030.51" y="109.77" width="3.30" height="3.30" rx="0.6"/>
<rect x="878.43" y="114.25" width="3.30" height="3.30" rx="0.6"/>
<rect x="891.85" y="114.25" width="3.30" height="3.30" rx="0.6"/>
<rect x="896.32" y="114.25" width="3.30" height="3.30" rx="0.6"/>
<rect x="905.27" y="114.25" width="3.30" height="3.30" rx="0.6"/>
<rect x="923.16" y="114.25" width="3.30" height="3.30" rx="0.6"/>
<rect x="976.84" y="114.25" width="3.30" height="3.30" rx="0.6"/>
<rect x="981.31" y="114.25" width="3.30" height="3.30" rx="0.6"/>
<rect x="985.78" y="114.25" width="3.30" height="3.30" rx="0.6"/>
<rect x="994.73" y="114.25" width="3.30" height="3.30" rx="0.6"/>
<rect x="999.20" y="114.25" width="3.30" height="3.30" rx="0.6"/>
<rect x="1003.68" y="114.25" width="3.30" height="3.30" rx="0.6"/>
<rect x="1012.62" y="114.25" width="3.30" height="3.30" rx="0.6"/>
<rect x="1021.57" y="114.25" width="3.30" height="3.30" rx="0.6"/>
<rect x="869.49" y="118.72" width="3.30" height="3.30" rx="0.6"/>
<rect x="873.96" y="118.72" width="3.30" height="3.30" rx="0.6"/>
<rect x="878.43" y="118.72" width="3.30" height="3.30" rx="0.6"/>
<rect x="887.38" y="118.72" width="3.30" height="3.30" rx="0.6"/>
<rect x="900.80" y="118.72" width="3.30" height="3.30" rx="0.6"/>
<rect x="905.27" y="118.72" width="3.30" height="3.30" rx="0.6"/>
<rect x="909.74" y="118.72" width="3.30" height="3.30" rx="0.6"/>
<rect x="914.22" y="118.72" width="3.30" height="3.30" rx="0.6"/>
<rect x="918.69" y="118.72" width="3.30" height="3.30" rx="0.6"/>
<rect x="923.16" y="118.72" width="3.30" height="3.30" rx="0.6"/>
<rect x="976.84" y="118.72" width="3.30" height="3.30" rx="0.6"/>
<rect x="985.78" y="118.72" width="3.30" height="3.30" rx="0.6"/>
<rect x="990.26" y="118.72" width="3.30" height="3.30" rx="0.6"/>
<rect x="999.20" y="118.72" width="3.30" height="3.30" rx="0.6"/>
<rect x="1012.62" y="118.72" width="3.30" height="3.30" rx="0.6"/>
<rect x="1021.57" y="118.72" width="3.30" height="3.30" rx="0.6"/>
<rect x="869.49" y="123.19" width="3.30" height="3.30" rx="0.6"/>
<rect x="882.91" y="123.19" width="3.30" height="3.30" rx="0.6"/>
<rect x="891.85" y="123.19" width="3.30" height="3.30" rx="0.6"/>
<rect x="896.32" y="123.19" width="3.30" height="3.30" rx="0.6"/>
<rect x="900.80" y="123.19" width="3.30" height="3.30" rx="0.6"/>
<rect x="914.22" y="123.19" width="3.30" height="3.30" rx="0.6"/>
<rect x="981.31" y="123.19" width="3.30" height="3.30" rx="0.6"/>
<rect x="990.26" y="123.19" width="3.30" height="3.30" rx="0.6"/>
<rect x="1003.68" y="123.19" width="3.30" height="3.30" rx="0.6"/>
<rect x="1008.15" y="123.19" width="3.30" height="3.30" rx="0.6"/>
<rect x="1012.62" y="123.19" width="3.30" height="3.30" rx="0.6"/>
<rect x="1017.10" y="123.19" width="3.30" height="3.30" rx="0.6"/>
<rect x="1026.04" y="123.19" width="3.30" height="3.30" rx="0.6"/>
<rect x="1030.51" y="123.19" width="3.30" height="3.30" rx="0.6"/>
<rect x="882.91" y="127.67" width="3.30" height="3.30" rx="0.6"/>
<rect x="887.38" y="127.67" width="3.30" height="3.30" rx="0.6"/>
<rect x="891.85" y="127.67" width="3.30" height="3.30" rx="0.6"/>
<rect x="976.84" y="127.67" width="3.30" height="3.30" rx="0.6"/>
<rect x="990.26" y="127.67" width="3.30" height="3.30" rx="0.6"/>
<rect x="994.73" y="127.67" width="3.30" height="3.30" rx="0.6"/>
<rect x="1003.68" y="127.67" width="3.30" height="3.30" rx="0.6"/>
<rect x="1008.15" y="127.67" width="3.30" height="3.30" rx="0.6"/>
<rect x="1012.62" y="127.67" width="3.30" height="3.30" rx="0.6"/>
<rect x="1017.10" y="127.67" width="3.30" height="3.30" rx="0.6"/>
<rect x="1030.51" y="127.67" width="3.30" height="3.30" rx="0.6"/>
<rect x="869.49" y="132.14" width="3.30" height="3.30" rx="0.6"/>
<rect x="882.91" y="132.14" width="3.30" height="3.30" rx="0.6"/>
<rect x="891.85" y="132.14" width="3.30" height="3.30" rx="0.6"/>
<rect x="896.32" y="132.14" width="3.30" height="3.30" rx="0.6"/>
<rect x="905.27" y="132.14" width="3.30" height="3.30" rx="0.6"/>
<rect x="909.74" y="132.14" width="3.30" height="3.30" rx="0.6"/>
<rect x="927.64" y="132.14" width="3.30" height="3.30" rx="0.6"/>
<rect x="936.58" y="132.14" width="3.30" height="3.30" rx="0.6"/>
<rect x="941.05" y="132.14" width="3.30" height="3.30" rx="0.6"/>
<rect x="945.53" y="132.14" width="3.30" height="3.30" rx="0.6"/>
<rect x="950.00" y="132.14" width="3.30" height="3.30" rx="0.6"/>
<rect x="954.47" y="132.14" width="3.30" height="3.30" rx="0.6"/>
<rect x="972.37" y="132.14" width="3.30" height="3.30" rx="0.6"/>
<rect x="985.78" y="132.14" width="3.30" height="3.30" rx="0.6"/>
<rect x="994.73" y="132.14" width="3.30" height="3.30" rx="0.6"/>
<rect x="999.20" y="132.14" width="3.30" height="3.30" rx="0.6"/>
<rect x="1003.68" y="132.14" width="3.30" height="3.30" rx="0.6"/>
<rect x="1030.51" y="132.14" width="3.30" height="3.30" rx="0.6"/>
<rect x="869.49" y="136.61" width="3.30" height="3.30" rx="0.6"/>
<rect x="873.96" y="136.61" width="3.30" height="3.30" rx="0.6"/>
<rect x="878.43" y="136.61" width="3.30" height="3.30" rx="0.6"/>
<rect x="887.38" y="136.61" width="3.30" height="3.30" rx="0.6"/>
<rect x="905.27" y="136.61" width="3.30" height="3.30" rx="0.6"/>
<rect x="914.22" y="136.61" width="3.30" height="3.30" rx="0.6"/>
<rect x="923.16" y="136.61" width="3.30" height="3.30" rx="0.6"/>
<rect x="932.11" y="136.61" width="3.30" height="3.30" rx="0.6"/>
<rect x="941.05" y="136.61" width="3.30" height="3.30" rx="0.6"/>
<rect x="954.47" y="136.61" width="3.30" height="3.30" rx="0.6"/>
<rect x="972.37" y="136.61" width="3.30" height="3.30" rx="0.6"/>
<rect x="976.84" y="136.61" width="3.30" height="3.30" rx="0.6"/>
<rect x="981.31" y="136.61" width="3.30" height="3.30" rx="0.6"/>
<rect x="990.26" y="136.61" width="3.30" height="3.30" rx="0.6"/>
<rect x="1017.10" y="136.61" width="3.30" height="3.30" rx="0.6"/>
<rect x="869.49" y="141.08" width="3.30" height="3.30" rx="0.6"/>
<rect x="878.43" y="141.08" width="3.30" height="3.30" rx="0.6"/>
<rect x="882.91" y="141.08" width="3.30" height="3.30" rx="0.6"/>
<rect x="887.38" y="141.08" width="3.30" height="3.30" rx="0.6"/>
<rect x="896.32" y="141.08" width="3.30" height="3.30" rx="0.6"/>
<rect x="900.80" y="141.08" width="3.30" height="3.30" rx="0.6"/>
<rect x="905.27" y="141.08" width="3.30" height="3.30" rx="0.6"/>
<rect x="909.74" y="141.08" width="3.30" height="3.30" rx="0.6"/>
<rect x="927.64" y="141.08" width="3.30" height="3.30" rx="0.6"/>
<rect x="945.53" y="141.08" width="3.30" height="3.30" rx="0.6"/>
<rect x="950.00" y="141.08" width="3.30" height="3.30" rx="0.6"/>
<rect x="958.95" y="141.08" width="3.30" height="3.30" rx="0.6"/>
<rect x="963.42" y="141.08" width="3.30" height="3.30" rx="0.6"/>
<rect x="967.89" y="141.08" width="3.30" height="3.30" rx="0.6"/>
<rect x="976.84" y="141.08" width="3.30" height="3.30" rx="0.6"/>
<rect x="981.31" y="141.08" width="3.30" height="3.30" rx="0.6"/>
<rect x="985.78" y="141.08" width="3.30" height="3.30" rx="0.6"/>
<rect x="990.26" y="141.08" width="3.30" height="3.30" rx="0.6"/>
<rect x="1003.68" y="141.08" width="3.30" height="3.30" rx="0.6"/>
<rect x="1012.62" y="141.08" width="3.30" height="3.30" rx="0.6"/>
<rect x="1026.04" y="141.08" width="3.30" height="3.30" rx="0.6"/>
<rect x="1030.51" y="141.08" width="3.30" height="3.30" rx="0.6"/>
<rect x="869.49" y="145.56" width="3.30" height="3.30" rx="0.6"/>
<rect x="878.43" y="145.56" width="3.30" height="3.30" rx="0.6"/>
<rect x="891.85" y="145.56" width="3.30" height="3.30" rx="0.6"/>
<rect x="900.80" y="145.56" width="3.30" height="3.30" rx="0.6"/>
<rect x="905.27" y="145.56" width="3.30" height="3.30" rx="0.6"/>
<rect x="909.74" y="145.56" width="3.30" height="3.30" rx="0.6"/>
<rect x="914.22" y="145.56" width="3.30" height="3.30" rx="0.6"/>
<rect x="918.69" y="145.56" width="3.30" height="3.30" rx="0.6"/>
<rect x="927.64" y="145.56" width="3.30" height="3.30" rx="0.6"/>
<rect x="932.11" y="145.56" width="3.30" height="3.30" rx="0.6"/>
<rect x="936.58" y="145.56" width="3.30" height="3.30" rx="0.6"/>
<rect x="954.47" y="145.56" width="3.30" height="3.30" rx="0.6"/>
<rect x="972.37" y="145.56" width="3.30" height="3.30" rx="0.6"/>
<rect x="976.84" y="145.56" width="3.30" height="3.30" rx="0.6"/>
<rect x="985.78" y="145.56" width="3.30" height="3.30" rx="0.6"/>
<rect x="994.73" y="145.56" width="3.30" height="3.30" rx="0.6"/>
<rect x="1008.15" y="145.56" width="3.30" height="3.30" rx="0.6"/>
<rect x="1012.62" y="145.56" width="3.30" height="3.30" rx="0.6"/>
<rect x="1021.57" y="145.56" width="3.30" height="3.30" rx="0.6"/>
<rect x="1026.04" y="145.56" width="3.30" height="3.30" rx="0.6"/>
<rect x="869.49" y="150.03" width="3.30" height="3.30" rx="0.6"/>
<rect x="882.91" y="150.03" width="3.30" height="3.30" rx="0.6"/>
<rect x="887.38" y="150.03" width="3.30" height="3.30" rx="0.6"/>
<rect x="891.85" y="150.03" width="3.30" height="3.30" rx="0.6"/>
<rect x="896.32" y="150.03" width="3.30" height="3.30" rx="0.6"/>
<rect x="905.27" y="150.03" width="3.30" height="3.30" rx="0.6"/>
<rect x="914.22" y="150.03" width="3.30" height="3.30" rx="0.6"/>
<rect x="918.69" y="150.03" width="3.30" height="3.30" rx="0.6"/>
<rect x="923.16" y="150.03" width="3.30" height="3.30" rx="0.6"/>
<rect x="941.05" y="150.03" width="3.30" height="3.30" rx="0.6"/>
<rect x="945.53" y="150.03" width="3.30" height="3.30" rx="0.6"/>
<rect x="950.00" y="150.03" width="3.30" height="3.30" rx="0.6"/>
<rect x="981.31" y="150.03" width="3.30" height="3.30" rx="0.6"/>
<rect x="990.26" y="150.03" width="3.30" height="3.30" rx="0.6"/>
<rect x="1021.57" y="150.03" width="3.30" height="3.30" rx="0.6"/>
<rect x="905.27" y="154.50" width="3.30" height="3.30" rx="0.6"/>
<rect x="914.22" y="154.50" width="3.30" height="3.30" rx="0.6"/>
<rect x="923.16" y="154.50" width="3.30" height="3.30" rx="0.6"/>
<rect x="936.58" y="154.50" width="3.30" height="3.30" rx="0.6"/>
<rect x="945.53" y="154.50" width="3.30" height="3.30" rx="0.6"/>
<rect x="954.47" y="154.50" width="3.30" height="3.30" rx="0.6"/>
<rect x="958.95" y="154.50" width="3.30" height="3.30" rx="0.6"/>
<rect x="972.37" y="154.50" width="3.30" height="3.30" rx="0.6"/>
<rect x="1026.04" y="154.50" width="3.30" height="3.30" rx="0.6"/>
<rect x="914.22" y="158.98" width="3.30" height="3.30" rx="0.6"/>
<rect x="918.69" y="158.98" width="3.30" height="3.30" rx="0.6"/>
<rect x="923.16" y="158.98" width="3.30" height="3.30" rx="0.6"/>
<rect x="932.11" y="158.98" width="3.30" height="3.30" rx="0.6"/>
<rect x="936.58" y="158.98" width="3.30" height="3.30" rx="0.6"/>
<rect x="954.47" y="158.98" width="3.30" height="3.30" rx="0.6"/>
<rect x="958.95" y="158.98" width="3.30" height="3.30" rx="0.6"/>
<rect x="963.42" y="158.98" width="3.30" height="3.30" rx="0.6"/>
<rect x="967.89" y="158.98" width="3.30" height="3.30" rx="0.6"/>
<rect x="972.37" y="158.98" width="3.30" height="3.30" rx="0.6"/>
<rect x="1026.04" y="158.98" width="3.30" height="3.30" rx="0.6"/>
<rect x="1030.51" y="158.98" width="3.30" height="3.30" rx="0.6"/>
<rect x="914.22" y="163.45" width="3.30" height="3.30" rx="0.6"/>
<rect x="918.69" y="163.45" width="3.30" height="3.30" rx="0.6"/>
<rect x="941.05" y="163.45" width="3.30" height="3.30" rx="0.6"/>
<rect x="945.53" y="163.45" width="3.30" height="3.30" rx="0.6"/>
<rect x="950.00" y="163.45" width="3.30" height="3.30" rx="0.6"/>
<rect x="954.47" y="163.45" width="3.30" height="3.30" rx="0.6"/>
<rect x="958.95" y="163.45" width="3.30" height="3.30" rx="0.6"/>
<rect x="967.89" y="163.45" width="3.30" height="3.30" rx="0.6"/>
<rect x="976.84" y="163.45" width="3.30" height="3.30" rx="0.6"/>
<rect x="1026.04" y="163.45" width="3.30" height="3.30" rx="0.6"/>
<rect x="1030.51" y="163.45" width="3.30" height="3.30" rx="0.6"/>
<rect x="909.74" y="167.92" width="3.30" height="3.30" rx="0.6"/>
<rect x="918.69" y="167.92" width="3.30" height="3.30" rx="0.6"/>
<rect x="923.16" y="167.92" width="3.30" height="3.30" rx="0.6"/>
<rect x="927.64" y="167.92" width="3.30" height="3.30" rx="0.6"/>
<rect x="936.58" y="167.92" width="3.30" height="3.30" rx="0.6"/>
<rect x="941.05" y="167.92" width="3.30" height="3.30" rx="0.6"/>
<rect x="958.95" y="167.92" width="3.30" height="3.30" rx="0.6"/>
<rect x="967.89" y="167.92" width="3.30" height="3.30" rx="0.6"/>
<rect x="976.84" y="167.92" width="3.30" height="3.30" rx="0.6"/>
<rect x="981.31" y="167.92" width="3.30" height="3.30" rx="0.6"/>
<rect x="985.78" y="167.92" width="3.30" height="3.30" rx="0.6"/>
<rect x="990.26" y="167.92" width="3.30" height="3.30" rx="0.6"/>
<rect x="1021.57" y="167.92" width="3.30" height="3.30" rx="0.6"/>
<rect x="1030.51" y="167.92" width="3.30" height="3.30" rx="0.6"/>
<rect x="914.22" y="172.40" width="3.30" height="3.30" rx="0.6"/>
<rect x="918.69" y="172.40" width="3.30" height="3.30" rx="0.6"/>
<rect x="923.16" y="172.40" width="3.30" height="3.30" rx="0.6"/>
<rect x="927.64" y="172.40" width="3.30" height="3.30" rx="0.6"/>
<rect x="941.05" y="172.40" width="3.30" height="3.30" rx="0.6"/>
<rect x="950.00" y="172.40" width="3.30" height="3.30" rx="0.6"/>
<rect x="954.47" y="172.40" width="3.30" height="3.30" rx="0.6"/>
<rect x="958.95" y="172.40" width="3.30" height="3.30" rx="0.6"/>
<rect x="963.42" y="172.40" width="3.30" height="3.30" rx="0.6"/>
<rect x="967.89" y="172.40" width="3.30" height="3.30" rx="0.6"/>
<rect x="972.37" y="172.40" width="3.30" height="3.30" rx="0.6"/>
<rect x="981.31" y="172.40" width="3.30" height="3.30" rx="0.6"/>
<rect x="985.78" y="172.40" width="3.30" height="3.30" rx="0.6"/>
<rect x="990.26" y="172.40" width="3.30" height="3.30" rx="0.6"/>
<rect x="999.20" y="172.40" width="3.30" height="3.30" rx="0.6"/>
<rect x="1003.68" y="172.40" width="3.30" height="3.30" rx="0.6"/>
<rect x="1017.10" y="172.40" width="3.30" height="3.30" rx="0.6"/>
<rect x="1030.51" y="172.40" width="3.30" height="3.30" rx="0.6"/>
<rect x="909.74" y="176.87" width="3.30" height="3.30" rx="0.6"/>
<rect x="914.22" y="176.87" width="3.30" height="3.30" rx="0.6"/>
<rect x="923.16" y="176.87" width="3.30" height="3.30" rx="0.6"/>
<rect x="936.58" y="176.87" width="3.30" height="3.30" rx="0.6"/>
<rect x="941.05" y="176.87" width="3.30" height="3.30" rx="0.6"/>
<rect x="945.53" y="176.87" width="3.30" height="3.30" rx="0.6"/>
<rect x="950.00" y="176.87" width="3.30" height="3.30" rx="0.6"/>
<rect x="967.89" y="176.87" width="3.30" height="3.30" rx="0.6"/>
<rect x="976.84" y="176.87" width="3.30" height="3.30" rx="0.6"/>
<rect x="981.31" y="176.87" width="3.30" height="3.30" rx="0.6"/>
<rect x="985.78" y="176.87" width="3.30" height="3.30" rx="0.6"/>
<rect x="990.26" y="176.87" width="3.30" height="3.30" rx="0.6"/>
<rect x="994.73" y="176.87" width="3.30" height="3.30" rx="0.6"/>
<rect x="1021.57" y="176.87" width="3.30" height="3.30" rx="0.6"/>
<rect x="1026.04" y="176.87" width="3.30" height="3.30" rx="0.6"/>
<rect x="1030.51" y="176.87" width="3.30" height="3.30" rx="0.6"/>
<rect x="909.74" y="181.34" width="3.30" height="3.30" rx="0.6"/>
<rect x="923.16" y="181.34" width="3.30" height="3.30" rx="0.6"/>
<rect x="932.11" y="181.34" width="3.30" height="3.30" rx="0.6"/>
<rect x="950.00" y="181.34" width="3.30" height="3.30" rx="0.6"/>
<rect x="958.95" y="181.34" width="3.30" height="3.30" rx="0.6"/>
<rect x="967.89" y="181.34" width="3.30" height="3.30" rx="0.6"/>
<rect x="972.37" y="181.34" width="3.30" height="3.30" rx="0.6"/>
<rect x="976.84" y="181.34" width="3.30" height="3.30" rx="0.6"/>
<rect x="990.26" y="181.34" width="3.30" height="3.30" rx="0.6"/>
<rect x="994.73" y="181.34" width="3.30" height="3.30" rx="0.6"/>
<rect x="999.20" y="181.34" width="3.30" height="3.30" rx="0.6"/>
<rect x="1012.62" y="181.34" width="3.30" height="3.30" rx="0.6"/>
<rect x="1017.10" y="181.34" width="3.30" height="3.30" rx="0.6"/>
<rect x="1030.51" y="181.34" width="3.30" height="3.30" rx="0.6"/>
<rect x="905.27" y="185.81" width="3.30" height="3.30" rx="0.6"/>
<rect x="914.22" y="185.81" width="3.30" height="3.30" rx="0.6"/>
<rect x="927.64" y="185.81" width="3.30" height="3.30" rx="0.6"/>
<rect x="932.11" y="185.81" width="3.30" height="3.30" rx="0.6"/>
<rect x="936.58" y="185.81" width="3.30" height="3.30" rx="0.6"/>
<rect x="950.00" y="185.81" width="3.30" height="3.30" rx="0.6"/>
<rect x="954.47" y="185.81" width="3.30" height="3.30" rx="0.6"/>
<rect x="972.37" y="185.81" width="3.30" height="3.30" rx="0.6"/>
<rect x="990.26" y="185.81" width="3.30" height="3.30" rx="0.6"/>
<rect x="994.73" y="185.81" width="3.30" height="3.30" rx="0.6"/>
<rect x="999.20" y="185.81" width="3.30" height="3.30" rx="0.6"/>
<rect x="1008.15" y="185.81" width="3.30" height="3.30" rx="0.6"/>
<rect x="1030.51" y="185.81" width="3.30" height="3.30" rx="0.6"/>
<path fill-rule="evenodd" d="M868.90,24.20h31.31v31.31h-31.31z M872.80,28.10v23.51h23.51v-23.51z"/>
<rect x="877.85" y="33.15" width="13.42" height="13.42"/>
<path fill-rule="evenodd" d="M1003.09,24.20h31.31v31.31h-31.31z M1006.99,28.10v23.51h23.51v-23.51z"/>
<rect x="1012.04" y="33.15" width="13.42" height="13.42"/>
<path fill-rule="evenodd" d="M868.90,158.39h31.31v31.31h-31.31z M872.80,162.29v23.51h23.51v-23.51z"/>
<rect x="877.85" y="167.34" width="13.42" height="13.42"/>
<path fill-rule="evenodd" d="M994.14,149.44h22.36v22.36h-22.36z M997.74,153.04v15.16h15.16v-15.16z"/>
<rect x="1003.68" y="158.98" width="3.30" height="3.30"/>
</g>
<defs><radialGradient id="av" cx="0.5" cy="0.5" r="0.6"><stop offset="0.7" stop-color="#ebe7ea"/><stop offset="1" stop-color="#f7f6f7"/></radialGradient></defs>
<rect x="932" y="87" width="42" height="42" rx="6" fill="url(#av)"/>
<path d="M940.5,128.5 C941,118 945,112 952,110 L956,116 L955,128.5Z" fill="#f6eef0"/>
<path d="M951.5,128.5 C951,119 953,111 956,108 C959,109 962,112 963,116 C964,120 965,125 965.5,128.5Z" fill="#dfa6b4"/>
<path d="M946.5,98 C946,104 948,109 952,110.5 C955,110 957,107 958,103 C958.5,99 957,96 953,95.5 C949.5,95.5 947,96 946.5,98Z" fill="#f4e0da"/>
<path d="M945.5,101 C944,95 947,90.5 953,90.8 C959,91 962.5,95 961.5,101 C960.5,104 958.5,105.5 957.5,104.5 C958,100 956,97 952,97.5 C949,98 947.5,100 946.5,103 Z" fill="#3c2c27"/>
<path d="M948,105.5 C949,106 950.5,106 951.5,105.5" stroke="#5a3535" stroke-width="1" fill="none"/>

</svg>
<svg style="position:absolute;left:0;top:0;opacity:0.47" width="1080" height="1424" viewBox="0 0 1080 1424">
<g fill="none" stroke="#ababab" stroke-linecap="round">
<circle cx="528.2" cy="719.5" r="173.7" stroke-width="7.5"/>
<path d="M676.7,693.1 A149.9,149.9 0 0 1 464.4,856.0" stroke-width="5.8"/>
<path d="M384.2,758.2 A149.9,149.9 0 0 1 602.5,590.0" stroke-width="5.8"/>
<path d="M661.5,692.7 A134,134 0 0 1 479.7,845.0" stroke-width="5.8"/>
<path d="M399.4,748.9 A134,134 0 0 1 587.1,599.6" stroke-width="5.8"/>
<circle cx="588" cy="468.5" r="19.6" stroke-width="3.8"/>
<circle cx="427.7" cy="1008.8" r="19.4" stroke-width="3.6"/>
</g>
<text x="0" y="0" transform="translate(534,712) rotate(-43)" text-anchor="middle" dominant-baseline="central" font-family="Liberation Sans, sans-serif" font-weight="500" font-size="85" letter-spacing="4" fill="#ababab">蝌蚪小升初</text>
</svg>
</body></html>
